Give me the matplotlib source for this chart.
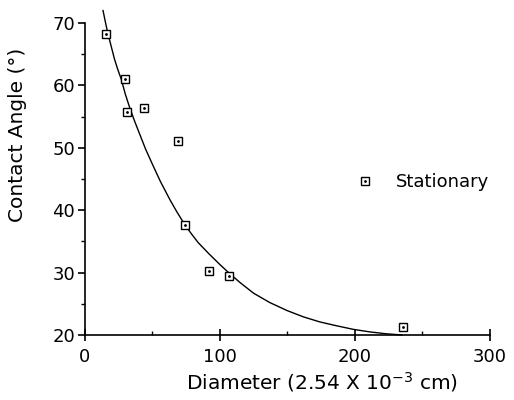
import numpy as np
import matplotlib; matplotlib.use("Agg")
import matplotlib.pyplot as plt
from matplotlib.ticker import MultipleLocator
from matplotlib.legend_handler import HandlerTuple

diam = [16, 30, 31, 44, 69, 74, 92, 107, 236]
angle = [68.2, 61.0, 55.7, 56.4, 51.1, 37.7, 30.2, 29.4, 21.3]

# fitted curve
curve_x = [13.5, 15, 17, 19.5, 22, 24.5, 27, 30, 33, 37, 41, 45, 50, 56, 63, 68, 74, 79, 84,
           92, 100, 107, 115, 125, 137, 150, 162, 174, 186, 199, 211, 223, 235]
curve_y = [72.0, 70.4, 68.4, 66.3, 64.2, 62.5, 61.0, 58.6, 56.6, 54.2, 52.0, 49.8, 47.4, 44.6,
           41.7, 39.8, 37.7, 36.2, 34.8, 33.0, 31.3, 29.9, 28.4, 26.7, 25.2, 23.9, 22.9, 22.1,
           21.5, 20.9, 20.5, 20.2, 20.0]

plt.rcParams['font.family'] = ['DejaVu Sans']
fig = plt.figure(figsize=(5.14, 4.0), dpi=100)
ax = fig.add_axes([0.165, 0.1625, 0.788, 0.78])

ax.plot(curve_x, curve_y, color='black', lw=1.0, clip_on=False)
sq, = ax.plot(diam, angle, ls='none', marker='s', ms=6, mfc='white', mec='black', mew=1.0, clip_on=False)
dot, = ax.plot(diam, angle, ls='none', marker='.', ms=2, color='black', clip_on=False)

ax.set_xlim(0, 300); ax.set_ylim(20, 70)
ax.xaxis.set_major_locator(MultipleLocator(100)); ax.xaxis.set_minor_locator(MultipleLocator(50))
ax.yaxis.set_major_locator(MultipleLocator(10)); ax.yaxis.set_minor_locator(MultipleLocator(5))
for s in ['top', 'right']: ax.spines[s].set_visible(False)
for s in ['left', 'bottom']: ax.spines[s].set_linewidth(1.2)
ax.tick_params(axis='x', which='major', direction='inout', length=9, width=1.2, labelsize=13, pad=5)
ax.tick_params(axis='x', which='minor', direction='in', length=3, width=1)
ax.tick_params(axis='y', which='major', direction='out', length=5, width=1.2, labelsize=13, pad=2)
ax.tick_params(axis='y', which='minor', direction='out', length=3, width=1)

ax.set_xlabel('Diameter (2.54 X 10$^{-3}$ cm)', fontsize=14.5)
ax.xaxis.set_label_coords(0.585, -0.112)
ax.set_ylabel('Contact Angle (°)', fontsize=14.5)
ax.yaxis.set_label_coords(-0.143, 0.64)

ax.legend([(sq, dot)], ['Stationary'], handler_map={tuple: HandlerTuple(ndivide=1)},
          loc='center left', bbox_to_anchor=(0.675, 0.49), frameon=False, fontsize=13,
          handlelength=0.8, handletextpad=1.3, borderpad=0, borderaxespad=0)

fig.savefig('out.png', dpi=100)
